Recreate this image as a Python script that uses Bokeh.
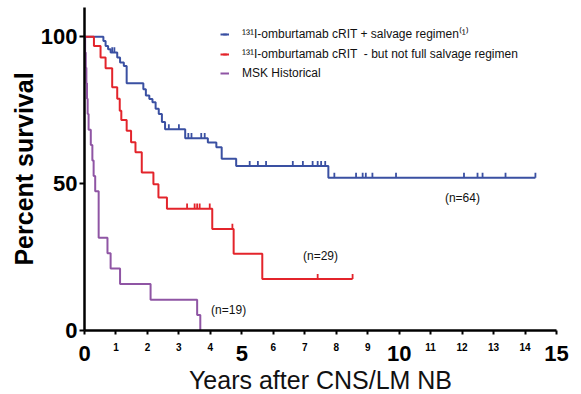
import numpy as np
from math import pi
from bokeh.plotting import figure
from bokeh.models import Range1d, FixedTicker, Label, Legend, LegendItem, LinearAxis, Title
from bokeh.embed import file_html
from bokeh.resources import INLINE

# ---- data (years, percent survival) ----
blue_t = [0, 0.60, 0.67, 0.75, 0.83, 1.04, 1.13, 1.25, 1.34, 1.87, 1.95, 2.06, 2.16,
          2.26, 2.36, 2.46, 2.56, 3.20, 3.92, 4.19, 4.36, 4.82, 7.75]
blue_s = [100, 98.6, 96.9, 95.8, 94.7, 93.0, 91.3, 90.1, 84.2, 82.2, 80.0, 78.8, 77.7,
          75.5, 73.7, 71.0, 68.5, 65.5, 64.0, 62.4, 58.5, 56.0, 52.0]
blue_end = 14.33
blue_censor = [0.88, 0.95, 2.68, 3.00, 3.30, 3.40, 3.71, 3.82, 5.25, 5.51, 5.77, 6.62,
               6.94, 7.25, 7.41, 7.52, 7.65, 7.94, 8.63, 8.84, 8.94, 9.15, 9.90, 12.06,
               12.49, 12.65, 13.38, 14.33]

red_t = [0, 0.30, 0.51, 0.67, 0.88, 1.04, 1.12, 1.17, 1.34, 1.48, 1.62, 1.82, 2.19,
         2.35, 2.62, 4.06, 4.74, 5.65]
red_s = [100, 96.9, 93.0, 89.3, 82.8, 78.9, 74.8, 71.7, 68.0, 64.1, 60.7, 53.8, 49.8,
         45.3, 41.5, 34.6, 26.1, 17.5]
red_end = 8.52
red_censor = [3.26, 3.50, 3.58, 3.66, 3.98, 4.70, 7.41, 8.52]

purple_t = [0, 0.02, 0.04, 0.06, 0.08, 0.10, 0.13, 0.20, 0.25, 0.29, 0.34, 0.45, 0.73,
            0.83, 1.13, 2.10, 3.58, 3.68]
purple_s = [100, 94.7, 89.5, 84.2, 78.9, 73.7, 68.4, 63.2, 57.9, 52.6, 47.4, 31.6, 26.3,
            21.1, 15.8, 10.5, 5.3, 0]
purple_end = 3.68
purple_censor = []

series_labels = ["\u00b9\u00b3\u00b9I-omburtamab cRIT + salvage regimen\u207d\u00b9\u207e",
                 "\u00b9\u00b3\u00b9I-omburtamab cRIT  - but not full salvage regimen",
                 "MSK Historical"]
n_labels = ["(n=64)", "(n=29)", "(n=19)"]
x_ticks = list(range(0, 16))
x_big = [0, 5, 10, 15]
y_ticks = [0, 50, 100]
x_title = "Years after CNS/LM NB"
y_title = "Percent survival"

COLORS = ["#3a50a2", "#e3242b", "#8f55a4"]
FONT = "Liberation Sans"

p = figure(width=581, height=394, output_backend="svg", toolbar_location=None,
           x_range=Range1d(0, 15), y_range=Range1d(0, 110),
           min_border_left=84, min_border_right=25, min_border_top=7, min_border_bottom=64)
p.outline_line_color = None
p.xgrid.visible = False
p.ygrid.visible = False
p.background_fill_color = "white"

items = []
for t, s, end, cens, col, lab in [
        (blue_t, blue_s, blue_end, blue_censor, COLORS[0], series_labels[0]),
        (red_t, red_s, red_end, red_censor, COLORS[1], series_labels[1]),
        (purple_t, purple_s, purple_end, purple_censor, COLORS[2], series_labels[2])]:
    xs = list(t) + [end]
    ys = list(s) + [s[-1]]
    lr = p.step(xs, ys, mode="after", line_color=col, line_width=2)
    ta = np.array(t)
    sa = np.array(s)
    cy = [float(sa[np.searchsorted(ta, c, side="right") - 1]) + 0.9 for c in cens]
    sr = p.scatter(list(cens), cy, marker="dash", angle=pi / 2, size=5,
                   line_color=col, line_width=1.8)
    items.append(LegendItem(label=lab, renderers=[lr, sr]))

legend = Legend(items=items, location=(136, 250), padding=0, margin=0, spacing=5,
                glyph_width=9, glyph_height=14, label_height=14, label_standoff=13,
                label_text_font=FONT, label_text_font_size="12px",
                label_text_color="#111111",
                background_fill_alpha=0, border_line_alpha=0)
p.add_layout(legend)

# x axis (nearest the frame): line, ticks and the small labels
xa = p.xaxis[0]
xa.ticker = FixedTicker(ticks=x_ticks)
xa.major_label_overrides = {i: ("" if i in x_big else str(i)) for i in x_ticks}
xa.major_label_text_font = FONT
xa.major_label_text_font_size = "10px"
xa.major_label_text_font_style = "bold"
xa.major_label_text_color = "black"
xa.major_label_standoff = 8
xa.axis_line_width = 2.5
xa.axis_line_color = "black"
xa.major_tick_line_width = 2
xa.major_tick_out = 4
xa.major_tick_in = 0
xa.minor_tick_line_color = None

# second x axis: the big labels 0, 5, 10, 15, pulled up beside the small ones
xb = LinearAxis(ticker=FixedTicker(ticks=x_big))
xb.major_label_text_font = FONT
xb.major_label_text_font_size = "22px"
xb.major_label_text_font_style = "bold"
xb.major_label_text_color = "black"
xb.major_label_standoff = -14
xb.axis_line_color = None
xb.major_tick_line_color = None
xb.minor_tick_line_color = None
p.add_layout(xb, "below")

p.add_layout(Title(text=x_title, align="center", text_font=FONT, text_font_size="25px",
                   text_font_style="normal", text_color="#111111", standoff=0), "below")

ya = p.yaxis[0]
ya.ticker = FixedTicker(ticks=y_ticks)
ya.major_label_text_font = FONT
ya.major_label_text_font_size = "22px"
ya.major_label_text_font_style = "bold"
ya.major_label_text_color = "black"
ya.major_label_standoff = 2
ya.axis_line_width = 2.5
ya.axis_line_color = "black"
ya.major_tick_line_width = 2
ya.major_tick_out = 5
ya.major_tick_in = 0
ya.minor_tick_line_color = None

p.add_layout(Title(text=y_title, align="center", offset=10, text_font=FONT,
                   text_font_size="25px", text_font_style="bold", text_color="black",
                   standoff=0), "left")

# n annotations
for (nx, ny), txt in zip([(12.01, 45.2), (7.50, 25.5), (4.58, 7.0)], n_labels):
    p.add_layout(Label(x=nx, y=ny, text=txt, text_align="center", text_baseline="middle",
                       text_font=FONT, text_font_size="12px", text_color="#111111"))

open("out.html", "w").write(file_html(p, INLINE))
